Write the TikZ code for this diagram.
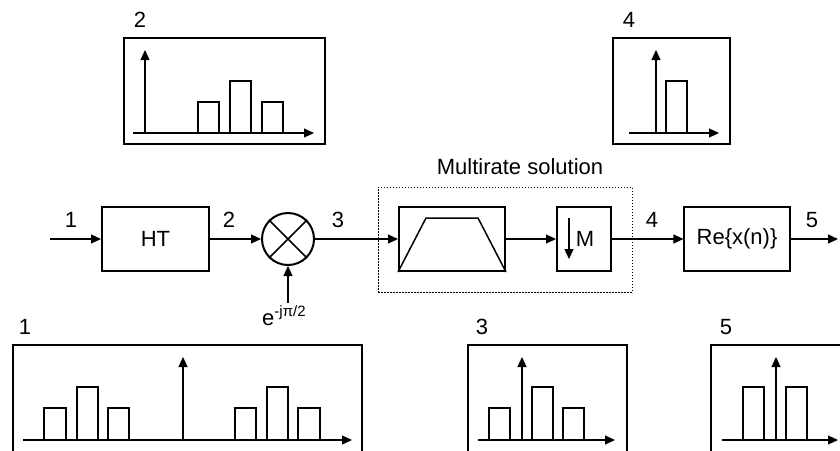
\documentclass[tikz,border=0pt]{standalone}
\usepackage{fontspec}
\setmainfont{Liberation Sans}
\usetikzlibrary{arrows.meta}

\tikzset{
  blk/.style={draw, line width=2pt, rectangle, inner sep=0pt},
  thinblk/.style={draw, line width=1.2pt, rectangle, inner sep=0pt},
  sig/.style={line width=1.1pt, -{Triangle[length=10pt,width=9pt]}},
  axis/.style={line width=1.1pt, -{Triangle[length=10pt,width=9pt]}},
  bar/.style={draw, line width=1.1pt},
  frame/.style={draw, line width=1.2pt},
  lbl/.style={inner sep=0pt},
}

\begin{document}
\begin{tikzpicture}[x=1pt, y=-1pt, font=\fontsize{22}{26}\selectfont]
  \useasboundingbox (0,0) rectangle (840,450);
  \clip (0,0) rectangle (840,450);
  \fill[white] (0,0) rectangle (840,450);

  % ---------- processing chain ----------
  \node[draw, dash pattern=on 1.5pt off 1.5pt, line width=1pt, rectangle,
        minimum width=254pt, minimum height=105pt, inner sep=0pt]
        (multirate) at (505,239.5) {};
  \node[lbl] (mrtext) at (520,167) {Multirate solution};

  \coordinate (in) at (50,239);
  \node[blk, minimum width=107pt, minimum height=64pt] (ht) at (155.5,239) {HT};
  \node[draw, circle, line width=2pt, minimum size=52pt, inner sep=0pt] (mult) at (288,239) {};
  \draw[line width=1.6pt] (mult.45) -- (mult.225) (mult.135) -- (mult.315);
  \node[blk, minimum width=106pt, minimum height=64pt] (filter) at (452,239) {};
  \draw[line width=1.5pt] (filter.south west) -- (426,218) -- (478,218) -- (filter.south east);
  \node[blk, minimum width=54pt, minimum height=64pt] (down) at (584,239) {};
  \draw[line width=1.2pt, -{Triangle[length=10pt,width=9pt]}] (569,218) -- (569,259);
  \node[lbl] (mtext) at (585,239) {M};
  \node[thinblk, minimum width=106pt, minimum height=64pt] (re) at (737,239) {Re\{x(n)\}};
  \coordinate (out) at (838,239);
  \coordinate (lo) at (288,303);

  \draw[sig] (in) -- (ht);
  \draw[sig] (ht) -- (mult);
  \draw[sig] (mult) -- (filter);
  \draw[sig] (filter) -- (down);
  \draw[sig] (down) -- (re);
  \draw[sig] (re) -- (out);
  \draw[sig] (lo) -- (mult.south);

  \node[lbl, anchor=base west] (expo) at (262,325)
    {e\raisebox{8.5pt}{\fontsize{15}{17}\selectfont -jπ/2}};

  \node[lbl] (n1) at (71,220) {1};
  \node[lbl] (n2) at (229,220) {2};
  \node[lbl] (n3) at (338,220) {3};
  \node[lbl] (n4) at (652,220) {4};
  \node[lbl] (n5) at (812,220) {5};

  % ---------- spectrum 2 ----------
  \node[lbl] (s2) at (140,20) {2};
  \draw[frame] (124,38) rectangle (325,144);
  \draw[bar] (198,133) rectangle (219,102);
  \draw[bar] (230,133) rectangle (251,81);
  \draw[bar] (262,133) rectangle (283,102);
  \draw[axis] (133,133) -- (314,133);
  \draw[axis] (145,133) -- (145,50);

  % ---------- spectrum 4 ----------
  \node[lbl] (s4) at (629,20) {4};
  \draw[frame] (613,38) rectangle (730,144);
  \draw[bar] (666,133) rectangle (687,81);
  \draw[axis] (629,133) -- (719,133);
  \draw[axis] (656,133) -- (656,50);

  % ---------- spectrum 1 ----------
  \node[lbl] (s1) at (25,327) {1};
  \draw[frame] (13,470) -- (13,345) -- (362,345) -- (362,470);
  \draw[bar] (44,440) rectangle (66,408);
  \draw[bar] (77,440) rectangle (98,387);
  \draw[bar] (108,440) rectangle (129,408);
  \draw[bar] (235,440) rectangle (256,408);
  \draw[bar] (267,440) rectangle (288,387);
  \draw[bar] (298,440) rectangle (320,408);
  \draw[axis] (23,440) -- (352,440);
  \draw[axis] (183,440) -- (183,357);

  % ---------- spectrum 3 ----------
  \node[lbl] (s3) at (482,327) {3};
  \draw[frame] (468,470) -- (468,345) -- (627,345) -- (627,470);
  \draw[bar] (489,440) rectangle (510,408);
  \draw[bar] (532,440) rectangle (553,387);
  \draw[bar] (563,440) rectangle (584,408);
  \draw[axis] (478,440) -- (615,440);
  \draw[axis] (522,440) -- (522,357);

  % ---------- spectrum 5 ----------
  \node[lbl] (s5) at (726,327) {5};
  \draw[frame] (711,470) -- (711,345) -- (860,345);
  \draw[bar] (743,440) rectangle (764,387);
  \draw[bar] (786,440) rectangle (807,387);
  \draw[axis] (722,440) -- (838,440);
  \draw[axis] (776,440) -- (776,357);
\end{tikzpicture}
\end{document}
